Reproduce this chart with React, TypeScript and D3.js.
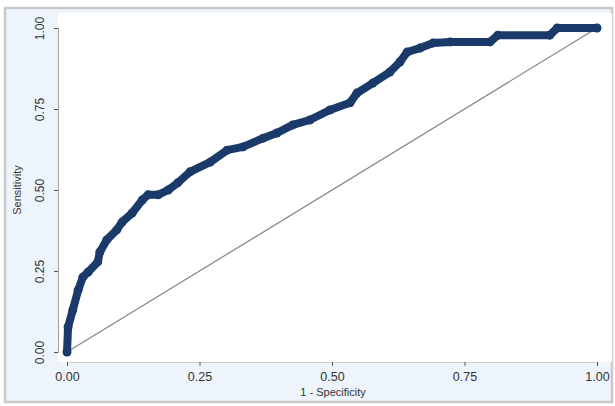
import { useEffect, useRef } from "react";
import * as d3 from "d3";

// ROC points: 1 - specificity / sensitivity
const fpr = [
  0, 0.002, 0.011, 0.021, 0.03, 0.04, 0.058, 0.062, 0.075, 0.094, 0.104, 0.123,
  0.142, 0.153, 0.172, 0.191, 0.209, 0.232, 0.27, 0.302, 0.332, 0.37, 0.396,
  0.426, 0.458, 0.496, 0.534, 0.547, 0.577, 0.609, 0.628, 0.642, 0.666, 0.691,
  0.723, 0.798, 0.813, 0.911, 0.925, 1.0,
];
const tpr = [
  0, 0.077, 0.13, 0.191, 0.231, 0.247, 0.278, 0.309, 0.346, 0.377, 0.401, 0.429,
  0.469, 0.485, 0.485, 0.5, 0.522, 0.556, 0.586, 0.623, 0.633, 0.66, 0.676,
  0.701, 0.716, 0.747, 0.769, 0.799, 0.83, 0.864, 0.895, 0.926, 0.938, 0.954,
  0.957, 0.957, 0.978, 0.978, 1.0, 1.0,
];
const ticks = [0, 0.25, 0.5, 0.75, 1];

const App = () => {
  const ref = useRef<SVGSVGElement | null>(null);

  useEffect(() => {
    if (!ref.current) return;
    const width = 615;
    const height = 406;

    const svg = d3.select(ref.current);
    svg.selectAll("*").remove();

    const x = d3.scaleLinear().domain([0, 1]).range([67, 597]);
    const y = d3.scaleLinear().domain([0, 1]).range([352, 28]);

    // outer background + frame
    svg
      .append("rect")
      .attr("x", 5)
      .attr("y", 8)
      .attr("width", width - 8)
      .attr("height", height - 12)
      .attr("fill", "#edf4fb")
      .attr("stroke", "#c9c9c9")
      .attr("stroke-width", 2.5);

    // plot region
    svg
      .append("rect")
      .attr("x", 58)
      .attr("y", 13)
      .attr("width", 554)
      .attr("height", 349)
      .attr("fill", "#ffffff");

    // axes
    const yAxis = svg
      .append("g")
      .attr("transform", "translate(58,0)")
      .call(
        d3
          .axisLeft(y)
          .tickValues(ticks)
          .tickSize(4)
          .tickFormat(d3.format(".2f"))
      );
    yAxis.select(".domain").attr("stroke", "#a0a0a0");
    yAxis.selectAll(".tick line").attr("stroke", "#555");
    yAxis
      .selectAll(".tick text")
      .attr("transform", "rotate(-90)")
      .attr("x", 0)
      .attr("y", -14)
      .attr("dy", 0)
      .attr("text-anchor", "middle")
      .attr("fill", "#333")
      .attr("font-size", 12)
      .attr("font-family", "Liberation Sans, Arial, sans-serif");

    const xAxis = svg
      .append("g")
      .attr("transform", "translate(0,362)")
      .call(
        d3
          .axisBottom(x)
          .tickValues(ticks)
          .tickSize(4)
          .tickFormat(d3.format(".2f"))
      );
    xAxis.select(".domain").attr("stroke", "#d0d0d0");
    xAxis.selectAll(".tick line").attr("stroke", "#555");
    xAxis
      .selectAll(".tick text")
      .attr("y", 10)
      .attr("fill", "#333")
      .attr("font-size", 12.5)
      .attr("font-family", "Liberation Sans, Arial, sans-serif");

    // axis titles
    svg
      .append("text")
      .attr("x", 333)
      .attr("y", 396)
      .attr("text-anchor", "middle")
      .attr("fill", "#333")
      .attr("font-size", 11)
      .attr("font-family", "Liberation Sans, Arial, sans-serif")
      .text("1 - Specificity");

    svg
      .append("text")
      .attr("transform", "translate(21,190) rotate(-90)")
      .attr("text-anchor", "middle")
      .attr("fill", "#333")
      .attr("font-size", 11)
      .attr("font-family", "Liberation Sans, Arial, sans-serif")
      .text("Sensitivity");

    // reference diagonal
    svg
      .append("line")
      .attr("x1", x(0))
      .attr("y1", y(0))
      .attr("x2", x(1))
      .attr("y2", y(1))
      .attr("stroke", "#7d8a80")
      .attr("stroke-width", 1.2);

    // ROC curve
    const pts = fpr.map((f, i) => [f, tpr[i]] as [number, number]);
    const line = d3
      .line<[number, number]>()
      .x((d) => x(d[0]))
      .y((d) => y(d[1]));

    svg
      .append("path")
      .attr("d", line(pts))
      .attr("fill", "none")
      .attr("stroke", "#1a3a6a")
      .attr("stroke-width", 8)
      .attr("stroke-linejoin", "round")
      .attr("stroke-linecap", "round");

    svg
      .selectAll(".pt")
      .data(pts)
      .join("circle")
      .attr("class", "pt")
      .attr("cx", (d) => x(d[0]))
      .attr("cy", (d) => y(d[1]))
      .attr("r", 4.5)
      .attr("fill", "#1a3a6a");
  }, []);

  return (
    <svg
      ref={ref}
      width={615}
      height={406}
      style={{ position: "absolute", left: 0, top: 0 }}
    ></svg>
  );
};

export default App;
